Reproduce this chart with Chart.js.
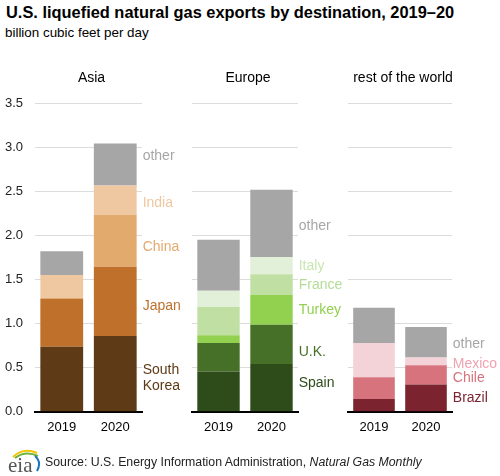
<!DOCTYPE html>
<html>
<head>
<meta charset="utf-8">
<script src="https://cdn.jsdelivr.net/npm/chart.js@4"></script>
<style>
  body { margin: 0; background: #fff; font-family: "Liberation Sans", Arial, sans-serif; }
  #wrap { position: relative; width: 500px; height: 476px; overflow: hidden; }
  #title { position: absolute; left: 6px; top: 3px; font-size: 16.4px; font-weight: bold; color: #000; white-space: nowrap; }
  #subtitle { position: absolute; left: 5px; top: 25px; font-size: 13.4px; color: #000; }
  canvas { position: absolute; top: 60px; }
  #footer { position: absolute; left: 7px; top: 447px; height: 28px; }
  #source { position: absolute; left: 45px; top: 455px; font-size: 12.3px; color: #222; white-space: nowrap; }
</style>
</head>
<body>
<div id="wrap">
  <div id="title">U.S. liquefied natural gas exports by destination, 2019–20</div>
  <div id="subtitle">billion cubic feet per day</div>
  <canvas id="asiaChart" width="190" height="390" style="left:0px"></canvas>
  <canvas id="europeChart" width="155" height="390" style="left:190px"></canvas>
  <canvas id="restChart" width="155" height="390" style="left:345px"></canvas>
  <svg id="footer" width="36" height="28" viewBox="0 0 36 28">
    <path d="M6 10 Q16 0 30 6" stroke="#f2c400" stroke-width="2" fill="none"/>
    <path d="M8 11 Q18 3 31 9" stroke="#6cb33f" stroke-width="2" fill="none"/>
    <path d="M28 9 Q35 15 30 24" stroke="#1b75bb" stroke-width="2" fill="none"/>
    <text x="1" y="25" font-family="Liberation Serif, serif" font-size="21" fill="#555">eia</text>
  </svg>
  <div id="source">Source: U.S. Energy Information Administration, <i>Natural Gas Monthly</i></div>
</div>
<script>
const years = ['2019', '2020'];
const yTicks = [0, 0.5, 1.0, 1.5, 2.0, 2.5, 3.0, 3.5];

// Asia (bottom to top)
const asiaNames = ['South Korea', 'Japan', 'China', 'India', 'other'];
const southKorea = [0.735, 0.857];
const japan = [0.545, 0.787];
const china = [0.01, 0.586];
const india = [0.26, 0.335];
const asiaOther = [0.27, 0.475];

// Europe
const europeNames = ['Spain', 'U.K.', 'Turkey', 'France', 'Italy', 'other'];
const spain = [0.455, 0.542];
const uk = [0.325, 0.443];
const turkey = [0.088, 0.341];
const france = [0.318, 0.231];
const italy = [0.184, 0.197];
const europeOther = [0.58, 0.762];

// rest of the world
const restNames = ['Brazil', 'Chile', 'Mexico', 'other'];
const brazil = [0.144, 0.307];
const chile = [0.246, 0.22];
const mexico = [0.39, 0.087];
const restOther = [0.398, 0.345];

const FONT = '"Liberation Sans", Arial, sans-serif';

// draws the panel name above and the series names next to the 2020 bar
const panelLabels = {
    id: 'panelLabels',
    afterDraw(chart, args, opts) {
        const c = chart.ctx;
        const area = chart.chartArea;
        c.save();
        c.font = '14px ' + FONT;
        c.fillStyle = '#000';
        c.textAlign = 'center';
        c.textBaseline = 'middle';
        c.fillText(opts.panel, (area.left + area.right) / 2 + 3, 18);

        c.textAlign = 'left';
        chart.data.datasets.forEach((ds, i) => {
            const el = chart.getDatasetMeta(i).data[1];
            const x = el.x + el.width / 2 + 6;
            const y = (el.y + el.base) / 2 + (opts.nudge[i] || 0);
            c.fillStyle = ds.textColor;
            const lines = ds.label === 'South Korea' ? ['South', 'Korea'] : [ds.label];
            lines.forEach((t, k) => {
                c.fillText(t, x, y + (k - (lines.length - 1) / 2) * 16);
            });
        });
        c.restore();
    }
};

function makeChart(id, names, series, colors, textColors, opts) {
    const datasets = series.map((s, i) => ({
        label: names[i],
        data: s,
        backgroundColor: colors[i],
        textColor: textColors[i],
        categoryPercentage: 0.8,
        barPercentage: 1.0
    }));
    return new Chart(document.getElementById(id), {
        type: 'bar',
        data: { labels: years, datasets: datasets },
        options: {
            responsive: false,
            animation: false,
            layout: { padding: { top: 43, left: opts.padLeft, right: opts.padRight } },
            plugins: {
                legend: { display: false },
                tooltip: { enabled: false },
                panelLabels: { panel: opts.panel, nudge: opts.nudge }
            },
            scales: {
                x: {
                    stacked: true,
                    grid: { display: false, drawTicks: false },
                    border: { display: true, color: '#000', width: 2 },
                    ticks: { color: '#000', font: { family: FONT, size: 13 }, padding: 8 },
                    afterFit: scale => { scale.height = 38.3; }
                },
                y: {
                    stacked: true,
                    min: 0,
                    max: 3.5,
                    afterBuildTicks: scale => { scale.ticks = yTicks.map(v => ({ value: v })); },
                    grid: { color: '#dcdcdc', lineWidth: 1, drawTicks: false },
                    border: { display: false },
                    ticks: {
                        display: opts.showTicks,
                        color: '#222',
                        padding: 12,
                        font: { family: FONT, size: 13 },
                        callback: v => v.toFixed(1)
                    },
                    afterFit: scale => { scale.width = opts.axisWidth; }
                }
            }
        },
        plugins: [panelLabels]
    });
}

makeChart('asiaChart', asiaNames,
    [southKorea, japan, china, india, asiaOther],
    ['#5e3a16', '#bf712b', '#e3aa6e', '#efc8a2', '#a6a6a6'],
    ['#5e3a16', '#bf712b', '#e3aa6e', '#efc8a2', '#a6a6a6'],
    { panel: 'Asia', padLeft: 0, padRight: 48, axisWidth: 35, showTicks: true, nudge: [4, 5, 6, 3, -8] });

makeChart('europeChart', europeNames,
    [spain, uk, turkey, france, italy, europeOther],
    ['#2e4b1a', '#466f27', '#92d050', '#c0e0a3', '#e2f0d9', '#a6a6a6'],
    ['#2e4b1a', '#466f27', '#92d050', '#b4dc96', '#c8e6b2', '#a6a6a6'],
    { panel: 'Europe', padLeft: 2, padRight: 47, axisWidth: 0, showTicks: false, nudge: [-4, 8, 0, 1, 0, 3] });

makeChart('restChart', restNames,
    [brazil, chile, mexico, restOther],
    ['#7b2430', '#d7737d', '#f3d3d8', '#a6a6a6'],
    ['#7b2430', '#d7737d', '#eea3b0', '#a6a6a6'],
    { panel: 'rest of the world', padLeft: 3, padRight: 48, axisWidth: 0, showTicks: false, nudge: [0, 3, 3, 2] });
</script>
</body>
</html>
